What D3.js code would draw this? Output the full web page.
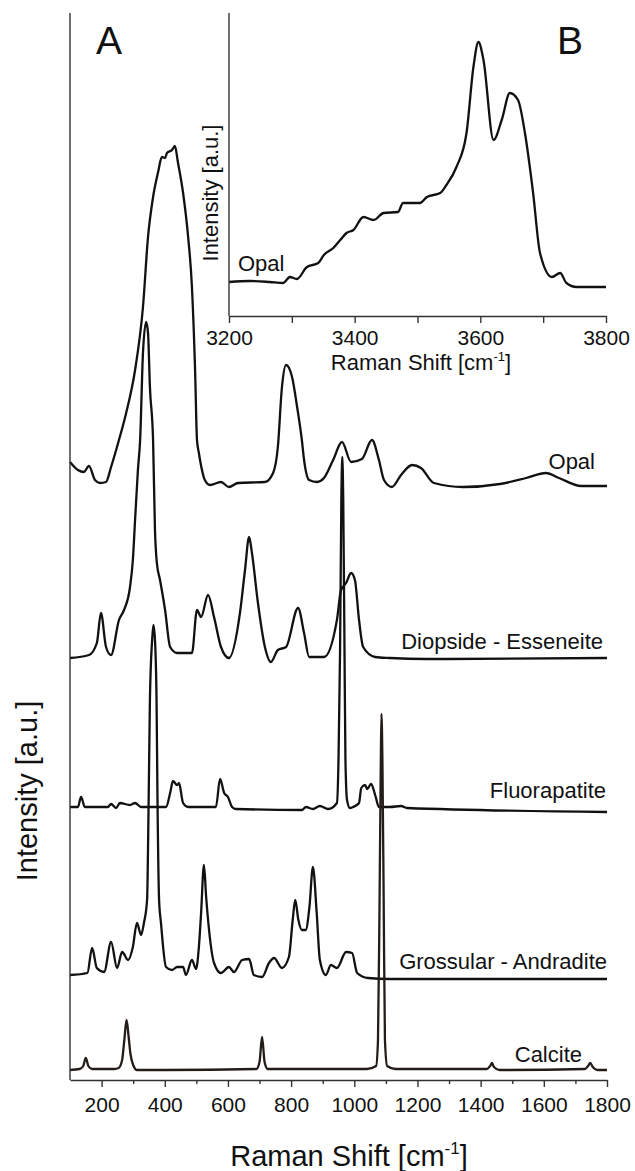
<!DOCTYPE html>
<html>
<head>
<meta charset="utf-8">
<script src="https://cdn.jsdelivr.net/npm/d3@7"></script>
<style>
  html, body { margin: 0; padding: 0; background: #fff; }
  svg { display: block; font-family: "Liberation Sans", Arial, Helvetica, sans-serif; }
</style>
</head>
<body>
<svg id="chart" width="635" height="1171"></svg>
<script>
// ---- Panel A: Raman spectra 100–1800 cm-1 (stacked, arbitrary units) ----
const seriesNames = ["Opal", "Diopside - Esseneite", "Fluorapatite", "Grossular - Andradite", "Calcite"];
const stackOffsets = [594, 422, 272, 103, 10];

const opalWn = [100,125,144,160,179,195,214,230,255,277,306,331,347,363,379,391,401,407,423,432,442,458,474,486,496,502,508,527,543,578,603,632,717,743,758,771,784,803,819,834,841,857,882,904,933,961,990,1024,1056,1078,1094,1119,1148,1183,1211,1252,1344,1461,1544,1607,1648,1718,1800];
const opalI  = [24,16,14,20,6,3,4,19,46,72,116,179,249,289,314,329,328,333,336,340,323,293,249,199,116,46,33,6,1,4,-1,3,4,13,39,99,121,109,79,46,26,6,4,8,26,44,24,27,46,26,6,-1,11,21,18,3,-1,2,8,13,8,0,0];

const diopWn = [100,160,185,198,214,230,255,271,290,299,306,315,322,331,341,347,353,363,369,375,385,401,417,439,486,502,515,537,556,578,603,638,654,667,676,695,717,736,758,784,822,841,857,904,945,958,974,990,1002,1015,1028,1066,1113,1230,1800];
const diopI  = [0,3,15,45,11,3,38,48,71,98,138,188,218,305,336,325,271,218,128,95,78,48,11,5,5,48,41,63,41,11,0,45,88,121,105,55,11,-4,8,11,50,25,1,1,38,68,75,85,78,38,11,1,0,-1,0];

const fluorWn = [100,125,135,147,220,230,246,258,290,306,325,404,417,426,439,445,458,474,562,575,588,600,613,625,834,847,869,891,917,945,950,955,959,962,965,969,972,977,986,996,1015,1022,1034,1041,1053,1067,1078,1113,1148,1167,1800];
const fluorI  = [1,1,11,1,1,4,0,5,3,5,1,1,15,27,23,25,5,1,1,29,15,11,1,-1,-2,1,-1,2,-1,5,48,158,308,351,308,158,48,8,0,1,5,20,23,19,24,12,1,1,2,0,-4];

const garnetWn = [100,155,170,185,208,230,249,265,284,299,312,325,334,344,349,353,360,364,369,374,377,382,388,404,423,439,458,467,486,499,508,515,524,531,538,556,578,603,619,645,667,682,708,730,746,771,793,805,813,823,834,846,858,869,881,891,910,926,945,974,993,1009,1043,1113,1800];
const garnetI  = [2,4,29,9,5,35,9,25,17,30,54,42,54,77,177,277,337,352,337,277,177,77,54,10,7,10,10,2,17,8,30,64,112,80,54,14,4,10,5,17,18,2,0,14,19,9,20,57,77,57,47,47,70,110,64,17,2,12,9,25,24,4,-1,-2,-2];

const calciteWn = [100,130,142,150,158,170,240,254,265,272,279,286,291,300,312,400,690,700,708,716,726,1040,1069,1075,1080,1084,1086,1089,1093,1097,1104,1130,1420,1430,1436,1442,1460,1730,1740,1747,1755,1770,1800];
const calciteI  = [0,1,4,12,4,1,1,2,10,30,50,32,17,5,0,0,1,8,33,8,1,1,4,30,170,310,356,310,170,30,4,1,1,4,7,3,0,1,4,7,3,0,0];

const mainTicks = [200,400,600,800,1000,1200,1400,1600,1800];
const mainMinorTicks = [300,500,700,900,1100,1300,1500,1700];

// ---- Panel B: Opal, O–H stretching region ----
const insetWn = [3200,3233,3265,3286,3297,3308,3324,3342,3351,3366,3377,3387,3398,3414,3430,3446,3469,3477,3504,3515,3536,3546,3562,3578,3589,3597,3605,3621,3634,3647,3660,3671,3684,3695,3714,3727,3737,3753,3800];
const insetI  = [34,35,34,33,39,37,49,53,61,68,76,83,86,99,96,103,104,113,113,119,123,131,149,183,249,274,256,176,196,223,216,183,123,63,39,43,33,29,29];
const insetTicks = [3200,3300,3400,3500,3600,3700,3800];
const insetLabelTicks = [3200,3400,3600,3800];

// ---- drawing ----
const svg = d3.select("#chart");
const INK = "#111";
const AXIS = "#333";

const x = d3.scaleLinear().domain([100, 1800]).range([70, 607]);
const y = d3.scaleLinear().domain([0, 1067]).range([1080, 13]);

const spectra = [
  { wn: opalWn, I: opalI, color: INK },
  { wn: diopWn, I: diopI, color: INK },
  { wn: fluorWn, I: fluorI, color: INK },
  { wn: garnetWn, I: garnetI, color: INK },
  { wn: calciteWn, I: calciteI, color: "#231c18" }
];

const line = d3.line().curve(d3.curveMonotoneX);

spectra.forEach((s, k) => {
  const pts = s.wn.map((w, i) => [x(w), y(s.I[i] + stackOffsets[k])]);
  svg.append("path")
    .attr("d", line(pts))
    .attr("fill", "none")
    .attr("stroke", s.color)
    .attr("stroke-width", 2.3)
    .attr("stroke-linejoin", "round");
});

// series labels on the right
const labelPos = [
  { x: 595, y: 469 },
  { x: 603, y: 649 },
  { x: 606, y: 798 },
  { x: 607, y: 969 },
  { x: 582, y: 1062 }
];
seriesNames.forEach((name, k) => {
  svg.append("text")
    .attr("x", labelPos[k].x).attr("y", labelPos[k].y)
    .attr("text-anchor", "end")
    .attr("font-size", 22)
    .attr("fill", INK)
    .text(name);
});

// y axis line (no ticks)
svg.append("line")
  .attr("x1", x(100)).attr("x2", x(100))
  .attr("y1", y(1067)).attr("y2", y(0))
  .attr("stroke", AXIS).attr("stroke-width", 1.4);

// x axis
const xAxisG = svg.append("g").attr("transform", `translate(0,${y(0)})`);
xAxisG.call(d3.axisBottom(x).tickValues(mainTicks).tickSize(7).tickSizeOuter(0).tickPadding(10).tickFormat(d3.format("d")));
xAxisG.append("g").call(d3.axisBottom(x).tickValues(mainMinorTicks).tickSize(4).tickSizeOuter(0).tickFormat(""))
  .select(".domain").remove();
xAxisG.selectAll(".domain, line").attr("stroke", AXIS).attr("stroke-width", 1.4);
xAxisG.selectAll("text").attr("font-size", 21).attr("font-family", "Liberation Sans, Arial, sans-serif").attr("fill", INK);

// axis titles
const xTitle = svg.append("text")
  .attr("x", 349).attr("y", 1166)
  .attr("text-anchor", "middle")
  .attr("font-size", 29).attr("fill", INK);
xTitle.append("tspan").text("Raman Shift [cm");
xTitle.append("tspan").attr("font-size", 17).attr("dy", -12).text("-1");
xTitle.append("tspan").attr("dy", 12).text("]");

svg.append("text")
  .attr("transform", "translate(37,791) rotate(-90)")
  .attr("text-anchor", "middle")
  .attr("font-size", 29).attr("fill", INK)
  .text("Intensity [a.u.]");

svg.append("text").attr("x", 96).attr("y", 54).attr("font-size", 39).attr("fill", INK).text("A");

// ---- inset B ----
const xi = d3.scaleLinear().domain([3200, 3800]).range([229, 606]);
const yi = d3.scaleLinear().domain([0, 303]).range([316, 13]);

svg.append("path")
  .attr("d", line(insetWn.map((w, i) => [xi(w), yi(insetI[i])])))
  .attr("fill", "none").attr("stroke", INK).attr("stroke-width", 2.3)
  .attr("stroke-linejoin", "round");

svg.append("line")
  .attr("x1", xi(3200)).attr("x2", xi(3200))
  .attr("y1", yi(303)).attr("y2", yi(0))
  .attr("stroke", AXIS).attr("stroke-width", 1.4);

const xiAxisG = svg.append("g").attr("transform", `translate(0,${yi(0)})`);
xiAxisG.call(d3.axisBottom(xi).tickValues(insetTicks).tickSize(7).tickSizeOuter(0).tickPadding(7)
  .tickFormat(d => insetLabelTicks.includes(d) ? d3.format("d")(d) : ""));
xiAxisG.selectAll(".domain, line").attr("stroke", AXIS).attr("stroke-width", 1.4);
xiAxisG.selectAll("text").attr("font-size", 21).attr("font-family", "Liberation Sans, Arial, sans-serif").attr("fill", INK);

const xiTitle = svg.append("text")
  .attr("x", 421).attr("y", 370)
  .attr("text-anchor", "middle")
  .attr("font-size", 22).attr("fill", INK);
xiTitle.append("tspan").text("Raman Shift [cm");
xiTitle.append("tspan").attr("font-size", 13).attr("dy", -9).text("-1");
xiTitle.append("tspan").attr("dy", 9).text("]");

svg.append("text")
  .attr("transform", "translate(218,193) rotate(-90)")
  .attr("text-anchor", "middle")
  .attr("font-size", 22).attr("fill", INK)
  .text("Intensity [a.u.]");

svg.append("text").attr("x", 238).attr("y", 271).attr("font-size", 22).attr("fill", INK).text("Opal");
svg.append("text").attr("x", 557).attr("y", 54).attr("font-size", 39).attr("fill", INK).text("B");
</script>
</body>
</html>
